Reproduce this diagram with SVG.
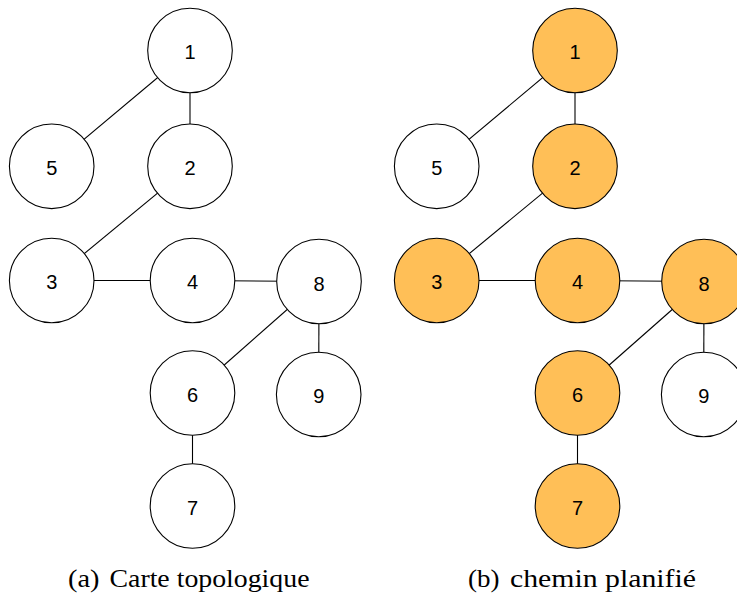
<svg xmlns="http://www.w3.org/2000/svg" width="737" height="598" viewBox="0 0 737 598">
<style>
.e{stroke:#000;stroke-width:1.1;fill:none}
.n{stroke:#000;stroke-width:1.1;fill:#fff}
.p{fill:#FFBF57}
.t{font-family:"Liberation Sans",Arial,sans-serif;font-size:20px;fill:#000;text-anchor:middle}
.c{font-family:"Liberation Serif","Times New Roman",serif;font-size:25px;fill:#000}
</style>
<rect width="737" height="598" fill="#fff"/>
<g id="connectors">
<line class="e" x1="190" y1="50.5" x2="51.7" y2="166.3"/>
<line class="e" x1="190" y1="50.5" x2="190" y2="166.3"/>
<line class="e" x1="190" y1="166.3" x2="51.7" y2="280.5"/>
<line class="e" x1="51.7" y1="280.5" x2="192.5" y2="280.5"/>
<line class="e" x1="192.5" y1="280.5" x2="319" y2="281.5"/>
<line class="e" x1="319" y1="281.5" x2="192.5" y2="393"/>
<line class="e" x1="319" y1="281.5" x2="318.7" y2="394.5"/>
<line class="e" x1="192.5" y1="393" x2="192.5" y2="506"/>
<line class="e" x1="575" y1="50.5" x2="436.7" y2="166.3"/>
<line class="e" x1="575" y1="50.5" x2="575" y2="166.3"/>
<line class="e" x1="575" y1="166.3" x2="436.7" y2="280.5"/>
<line class="e" x1="436.7" y1="280.5" x2="577.5" y2="280.5"/>
<line class="e" x1="577.5" y1="280.5" x2="704" y2="281.5"/>
<line class="e" x1="704" y1="281.5" x2="577.5" y2="393"/>
<line class="e" x1="704" y1="281.5" x2="703.7" y2="394.5"/>
<line class="e" x1="577.5" y1="393" x2="577.5" y2="506"/>
</g>
<g id="a1"><circle class="n" cx="190" cy="50.5" r="42.3"/><text class="t" x="190" y="59">1</text></g>
<g id="a5"><circle class="n" cx="51.7" cy="166.3" r="42.3"/><text class="t" x="51.7" y="175">5</text></g>
<g id="a2"><circle class="n" cx="190" cy="166.3" r="42.3"/><text class="t" x="190" y="175">2</text></g>
<g id="a3"><circle class="n" cx="51.7" cy="280.5" r="42.3"/><text class="t" x="51.7" y="289">3</text></g>
<g id="a4"><circle class="n" cx="192.5" cy="280.5" r="42.3"/><text class="t" x="192.5" y="289">4</text></g>
<g id="a8"><circle class="n" cx="319" cy="281.5" r="42.3"/><text class="t" x="319" y="290.5">8</text></g>
<g id="a6"><circle class="n" cx="192.5" cy="393" r="42.3"/><text class="t" x="192.5" y="401.5">6</text></g>
<g id="a9"><circle class="n" cx="318.7" cy="394.5" r="42.3"/><text class="t" x="318.7" y="403">9</text></g>
<g id="a7"><circle class="n" cx="192.5" cy="506" r="42.3"/><text class="t" x="192.5" y="514.5">7</text></g>
<g id="b1"><circle class="n p" cx="575" cy="50.5" r="42.3"/><text class="t" x="575" y="59">1</text></g>
<g id="b5"><circle class="n" cx="436.7" cy="166.3" r="42.3"/><text class="t" x="436.7" y="175">5</text></g>
<g id="b2"><circle class="n p" cx="575" cy="166.3" r="42.3"/><text class="t" x="575" y="175">2</text></g>
<g id="b3"><circle class="n p" cx="436.7" cy="280.5" r="42.3"/><text class="t" x="436.7" y="289">3</text></g>
<g id="b4"><circle class="n p" cx="577.5" cy="280.5" r="42.3"/><text class="t" x="577.5" y="289">4</text></g>
<g id="b8"><circle class="n p" cx="704" cy="281.5" r="42.3"/><text class="t" x="704" y="290.5">8</text></g>
<g id="b6"><circle class="n p" cx="577.5" cy="393" r="42.3"/><text class="t" x="577.5" y="401.5">6</text></g>
<g id="b9"><circle class="n" cx="703.7" cy="394.5" r="42.3"/><text class="t" x="703.7" y="403">9</text></g>
<g id="b7"><circle class="n p" cx="577.5" cy="506" r="42.3"/><text class="t" x="577.5" y="514.5">7</text></g>
<g id="captions">
<text class="c" y="587"><tspan x="68" textLength="31.5" lengthAdjust="spacingAndGlyphs">(a)</tspan> <tspan x="109.5" textLength="200" lengthAdjust="spacingAndGlyphs">Carte topologique</tspan></text>
<text class="c" y="587"><tspan x="468" textLength="31.5" lengthAdjust="spacingAndGlyphs">(b)</tspan> <tspan x="510" textLength="186" lengthAdjust="spacingAndGlyphs">chemin planifié</tspan></text>
</g>
</svg>
